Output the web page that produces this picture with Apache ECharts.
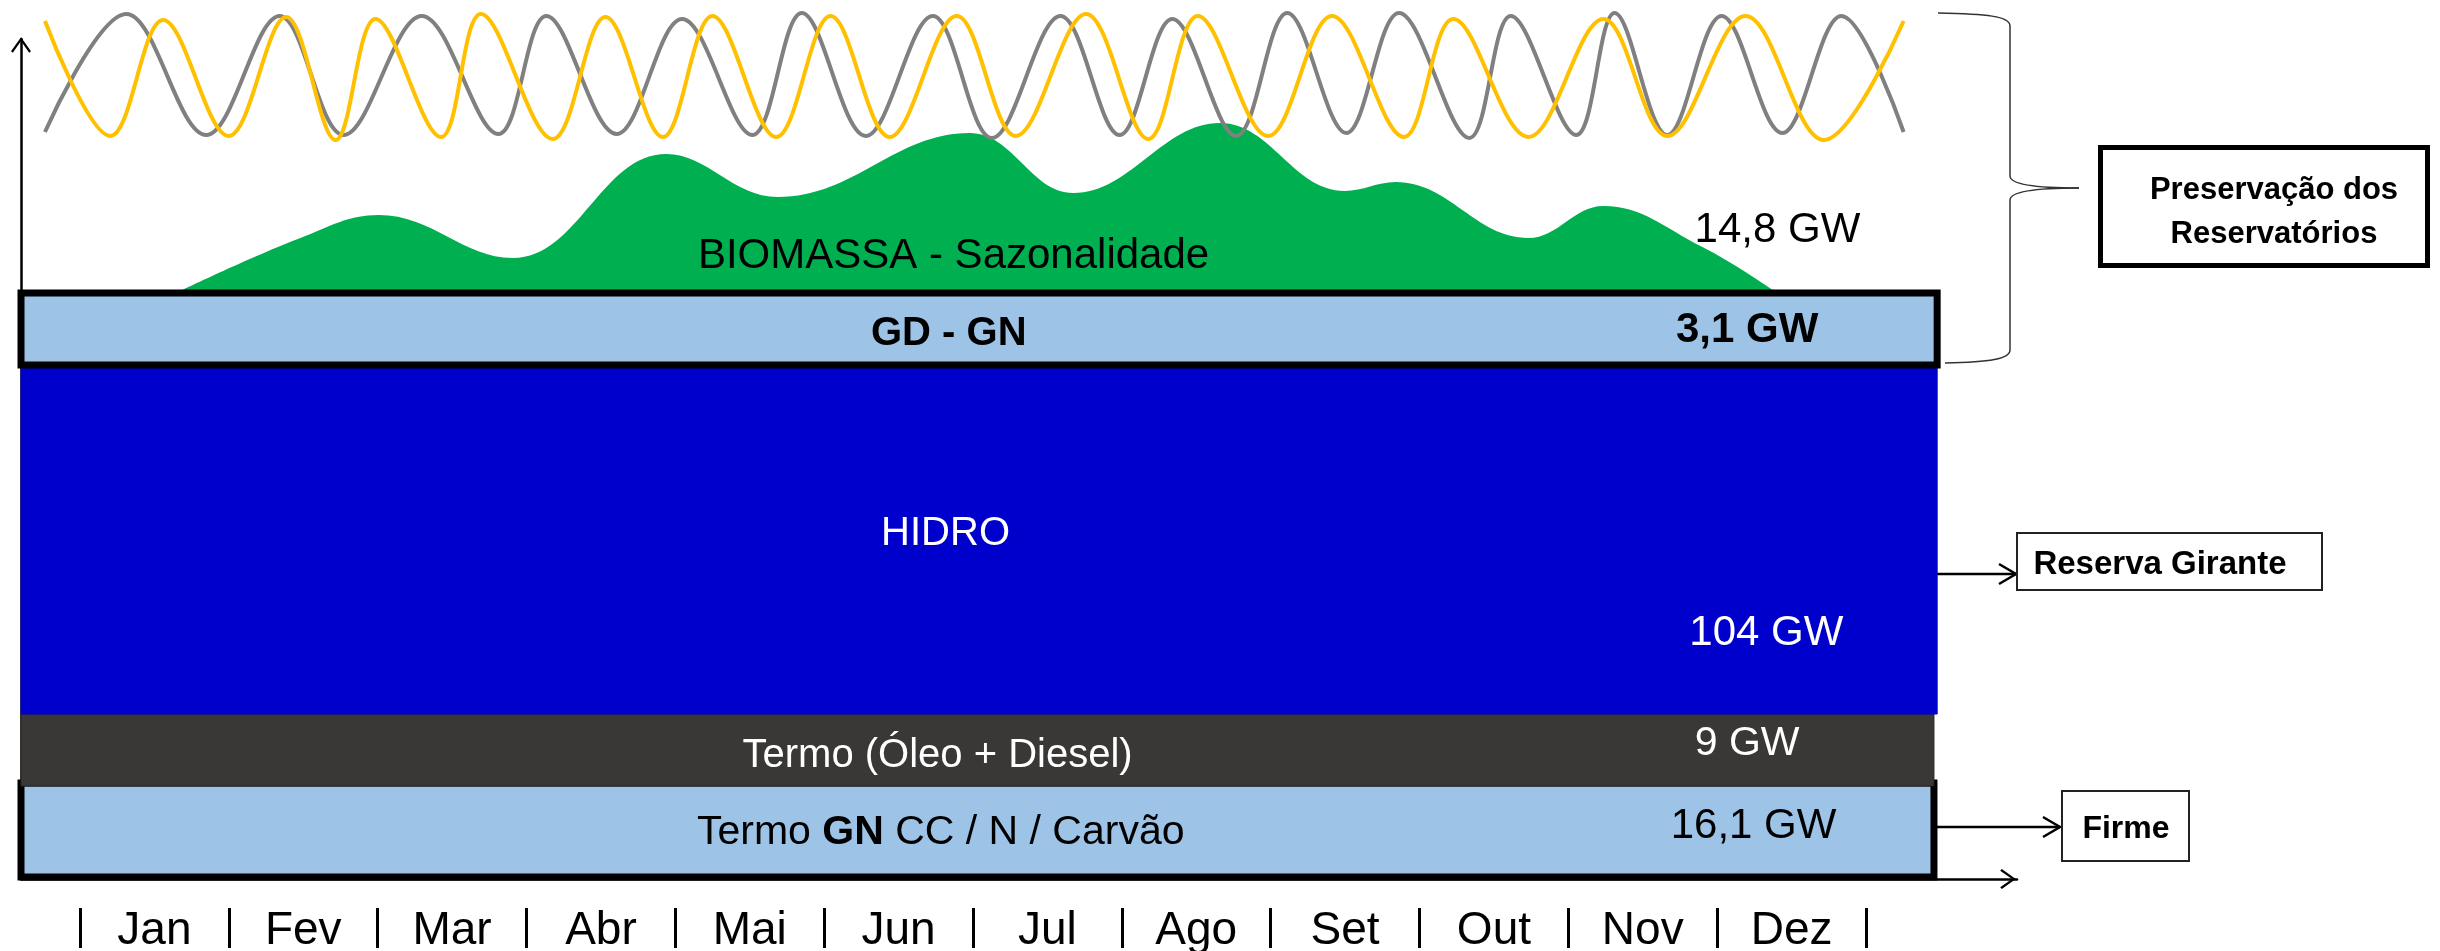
<!DOCTYPE html>
<html>
<head>
<meta charset="utf-8">
<title>Sazonalidade da geração</title>
<script src="https://cdn.jsdelivr.net/npm/echarts@6/dist/echarts.min.js"></script>
<style>
  html, body { margin: 0; padding: 0; background: #fff; }
  #chart { width: 2440px; height: 951px; }
</style>
</head>
<body>
<div id="chart"></div>
<script>
// eixo x: meses do ano (0 a 12), eixo y: altura esquematica
const months = ['Jan', 'Fev', 'Mar', 'Abr', 'Mai', 'Jun', 'Jul', 'Ago', 'Set', 'Out', 'Nov', 'Dez'];

// onda cinza (picos e vales)
const grayX = [0.15, 0.66, 1.16, 1.62, 2.02, 2.51, 2.99, 3.29, 3.73, 4.14, 4.58, 4.89, 5.29, 5.71, 6.08, 6.51,
  6.88, 7.21, 7.61, 7.93, 8.30, 8.63, 9.07, 9.33, 9.74, 9.98, 10.31, 10.65, 11.03, 11.40, 11.79];
const grayY = [74.7, 86.5, 74.4, 86.3, 74.4, 86.3, 74.5, 86.3, 74.5, 86.0, 74.4, 86.6, 74.3, 86.3, 74.1, 86.3,
  74.4, 86.0, 74.3, 86.6, 74.6, 86.6, 74.1, 86.3, 74.4, 86.6, 74.4, 86.3, 74.6, 86.3, 74.7];

// onda amarela
const goldX = [0.15, 0.56, 0.89, 1.30, 1.66, 1.97, 2.22, 2.63, 2.88, 3.33, 3.66, 4.02, 4.33, 4.73, 5.07, 5.44,
  5.86, 6.23, 6.67, 7.06, 7.37, 7.81, 8.21, 8.66, 8.97, 9.44, 9.91, 10.31, 10.80, 11.29, 11.79];
const goldY = [85.8, 74.3, 85.9, 74.3, 86.2, 73.9, 86.0, 74.2, 86.5, 74.0, 86.2, 74.2, 86.3, 74.2, 86.3, 74.2,
  86.3, 74.3, 86.5, 74.0, 86.3, 74.3, 86.3, 74.2, 86.0, 74.2, 86.0, 74.3, 86.3, 73.9, 85.8];

// biomassa - sazonalidade
const bioX = [1.01, 1.75, 2.24, 3.08, 4.04, 4.74, 5.94, 6.59, 7.51, 8.29, 8.61, 9.44, 9.91, 10.53, 10.97];
const bioY = [58.9, 64.1, 66.4, 62.1, 72.5, 68.2, 74.6, 68.6, 75.6, 68.8, 69.7, 64.1, 67.3, 63.2, 58.9];

// blocos empilhados (de baixo para cima)
const blockNames = ['Termo GN CC / N / Carvão', 'Termo (Óleo + Diesel)', 'HIDRO', 'GD - GN'];
const blockGW = ['16,1 GW', '9 GW', '104 GW', '3,1 GW'];
const blockStart = [0, 0, 0, 0];
const blockEnd = [11.98, 11.98, 12, 12];
const blockBase = [0.2, 9.3, 16.5, 51.4];
const blockTop = [9.6, 16.5, 51.4, 58.6];

const bioLabel = 'BIOMASSA - Sazonalidade';
const bioGW = '14,8 GW';

const FONT = "'Liberation Sans', Arial, sans-serif";

// posicao dos rotulos (unidades dos eixos) e estilos
const nameAt = [[5.76, 4.6], [5.74, 12.3], [5.79, 34.5], [5.81, 54.5]];
const valueAt = [[10.85, 5.3], [10.81, 13.5], [10.93, 24.6], [10.81, 54.9]];
const blockStyle = [
  { fill: '#9DC3E6', stroke: '#000', lineWidth: 7, text: '#000', nameSize: 41, valueSize: 42, bold: false },
  { fill: '#3A3836', stroke: '#262626', lineWidth: 1, text: '#fff', nameSize: 40, valueSize: 41, bold: false },
  { fill: '#0000CC', stroke: '#0000CC', lineWidth: 1, text: '#fff', nameSize: 40, valueSize: 42, bold: false },
  { fill: '#9DC3E6', stroke: '#000', lineWidth: 7, text: '#000', nameSize: 40, valueSize: 42, bold: true }
];
const bioLabelAt = [[5.84, 62.3], [11.0, 64.9]];

const chevron = 'path://M10,0 L20,14 L18.2,15.6 L10,3.8 L1.8,15.6 L0,14 Z';

function textEl(pos, text, size, color, bold) {
  return {
    type: 'text', x: pos[0], y: pos[1],
    style: {
      text: text, fill: color, fontSize: size, fontFamily: FONT,
      fontWeight: bold ? 'bold' : 'normal', align: 'center', verticalAlign: 'middle'
    }
  };
}

const chart = echarts.init(document.getElementById('chart'));

const option = {
  animation: false,
  backgroundColor: '#fff',
  grid: [
    { left: 21, right: 423, top: 39, bottom: 72 },
    { left: 80, right: 574, top: 908, bottom: 0 }
  ],
  xAxis: [
    {
      type: 'value', gridIndex: 0, min: 0, max: 12.5,
      axisLine: { show: true, symbol: ['none', chevron], symbolSize: [20, 18], symbolOffset: [0, -9],
        lineStyle: { color: '#000', width: 2.5 } },
      axisTick: { show: false }, axisLabel: { show: false }, splitLine: { show: false }
    },
    {
      type: 'category', gridIndex: 1, position: 'top', data: months,
      axisLine: { show: false }, axisTick: { show: false },
      axisLabel: { inside: true, interval: 0, margin: 23, fontSize: 46, color: '#000',
        fontFamily: FONT, verticalAlign: 'middle' },
      splitLine: { show: true, interval: 0, lineStyle: { color: '#000', width: 3 } }
    }
  ],
  yAxis: [
    {
      type: 'value', gridIndex: 0, min: 0, max: 84, offset: 3,
      axisLine: { show: true, symbol: ['none', chevron], symbolSize: [20, 16], symbolOffset: [0, -6],
        lineStyle: { color: '#000', width: 2.5 } },
      axisTick: { show: false }, axisLabel: { show: false }, splitLine: { show: false }
    },
    { type: 'value', gridIndex: 1, show: false }
  ],
  series: [
    {
      name: 'Biomassa', type: 'line', smooth: 0.4, symbol: 'none', z: 1,
      data: bioX.map((x, i) => [x, bioY[i]]),
      lineStyle: { width: 0 },
      areaStyle: { color: '#00B050', opacity: 1 }
    },
    {
      name: 'Blocos', type: 'custom', z: 3, clip: false,
      encode: { x: [0, 1], y: [2, 3] },
      data: blockNames.map((n, i) => [blockStart[i], blockEnd[i], blockBase[i], blockTop[i]]),
      renderItem: function (params, api) {
        const i = params.dataIndex;
        const st = blockStyle[i];
        const p0 = api.coord([api.value(0), api.value(3)]);
        const p1 = api.coord([api.value(1), api.value(2)]);
        const np = api.coord(nameAt[i]);
        const vp = api.coord(valueAt[i]);
        let nameEl;
        if (i === 0) {
          // "GN" em negrito
          nameEl = {
            type: 'text', x: np[0], y: np[1],
            style: {
              text: '{n|Termo }{b|GN}{n| CC / N / Carvão}',
              align: 'center', verticalAlign: 'middle',
              rich: {
                n: { fontSize: st.nameSize, fontFamily: FONT, fill: st.text },
                b: { fontSize: st.nameSize, fontFamily: FONT, fill: st.text, fontWeight: 'bold' }
              }
            }
          };
        } else {
          nameEl = textEl(np, blockNames[i], st.nameSize, st.text, st.bold);
        }
        return {
          type: 'group',
          children: [
            {
              type: 'rect',
              shape: { x: p0[0], y: p0[1], width: p1[0] - p0[0], height: p1[1] - p0[1] },
              style: { fill: st.fill, stroke: st.stroke, lineWidth: st.lineWidth }
            },
            nameEl,
            textEl(vp, blockGW[i], st.valueSize, st.text, st.bold)
          ]
        };
      }
    },
    {
      name: 'Cinza', type: 'line', smooth: 0.36, symbol: 'none', z: 4, clip: false,
      data: grayX.map((x, i) => [x, grayY[i]]),
      lineStyle: { color: '#808080', width: 4 }
    },
    {
      name: 'Amarela', type: 'line', smooth: 0.36, symbol: 'none', z: 4, clip: false,
      data: goldX.map((x, i) => [x, goldY[i]]),
      lineStyle: { color: '#FFC000', width: 4 }
    },
    {
      name: 'RotulosBio', type: 'custom', z: 5, clip: false,
      data: [[bioLabelAt[0][0], bioLabelAt[0][1]], [bioLabelAt[1][0], bioLabelAt[1][1]]],
      renderItem: function (params, api) {
        const p = api.coord([api.value(0), api.value(1)]);
        return textEl(p, params.dataIndex === 0 ? bioLabel : bioGW, 42, '#000', false);
      }
    }
  ],
  graphic: [
    // chave "Preservacao dos Reservatorios"
    { type: 'bezierCurve', shape: { x1: 1938, y1: 13, cpx1: 1986, cpy1: 14, cpx2: 2010, cpy2: 16, x2: 2010, y2: 26 },
      style: { stroke: '#333', lineWidth: 1.5, fill: null } },
    { type: 'line', shape: { x1: 2010, y1: 26, x2: 2010, y2: 176 }, style: { stroke: '#333', lineWidth: 1.5 } },
    { type: 'bezierCurve', shape: { x1: 2010, y1: 176, cpx1: 2010, cpy1: 185, cpx2: 2040, cpy2: 188, x2: 2079, y2: 188 },
      style: { stroke: '#333', lineWidth: 1.5, fill: null } },
    { type: 'bezierCurve', shape: { x1: 2079, y1: 188, cpx1: 2040, cpy1: 188, cpx2: 2010, cpy2: 191, x2: 2010, y2: 200 },
      style: { stroke: '#333', lineWidth: 1.5, fill: null } },
    { type: 'line', shape: { x1: 2010, y1: 200, x2: 2010, y2: 350 }, style: { stroke: '#333', lineWidth: 1.5 } },
    { type: 'bezierCurve', shape: { x1: 2010, y1: 350, cpx1: 2010, cpy1: 359, cpx2: 1990, cpy2: 362, x2: 1945, y2: 363 },
      style: { stroke: '#333', lineWidth: 1.5, fill: null } },
    { type: 'rect', shape: { x: 2100.5, y: 147.5, width: 327, height: 118 },
      style: { fill: '#fff', stroke: '#000', lineWidth: 5 } },
    { type: 'text', x: 2274, y: 190, style: { text: 'Preservação dos', fontSize: 31, fontWeight: 'bold',
      fontFamily: FONT, fill: '#000', align: 'center', verticalAlign: 'middle' } },
    { type: 'text', x: 2274, y: 234, style: { text: 'Reservatórios', fontSize: 31, fontWeight: 'bold',
      fontFamily: FONT, fill: '#000', align: 'center', verticalAlign: 'middle' } },

    // Reserva Girante
    { type: 'line', shape: { x1: 1932, y1: 574, x2: 2016, y2: 574 }, style: { stroke: '#000', lineWidth: 2.5 } },
    { type: 'polyline', shape: { points: [[1999, 564], [2016, 574], [1999, 584]] },
      style: { stroke: '#000', lineWidth: 2.5, fill: null } },
    { type: 'rect', shape: { x: 2017, y: 533, width: 305, height: 57 },
      style: { fill: '#fff', stroke: '#222', lineWidth: 2 } },
    { type: 'text', x: 2160, y: 565, style: { text: 'Reserva Girante', fontSize: 33, fontWeight: 'bold',
      fontFamily: FONT, fill: '#000', align: 'center', verticalAlign: 'middle' } },

    // Firme
    { type: 'line', shape: { x1: 1932, y1: 827, x2: 2060, y2: 827 }, style: { stroke: '#000', lineWidth: 2.5 } },
    { type: 'polyline', shape: { points: [[2043, 817], [2060, 827], [2043, 837]] },
      style: { stroke: '#000', lineWidth: 2.5, fill: null } },
    { type: 'rect', shape: { x: 2062, y: 791, width: 127, height: 70 },
      style: { fill: '#fff', stroke: '#222', lineWidth: 2 } },
    { type: 'text', x: 2126, y: 829, style: { text: 'Firme', fontSize: 32, fontWeight: 'bold',
      fontFamily: FONT, fill: '#000', align: 'center', verticalAlign: 'middle' } }
  ]
};

chart.setOption(option);
</script>
</body>
</html>
